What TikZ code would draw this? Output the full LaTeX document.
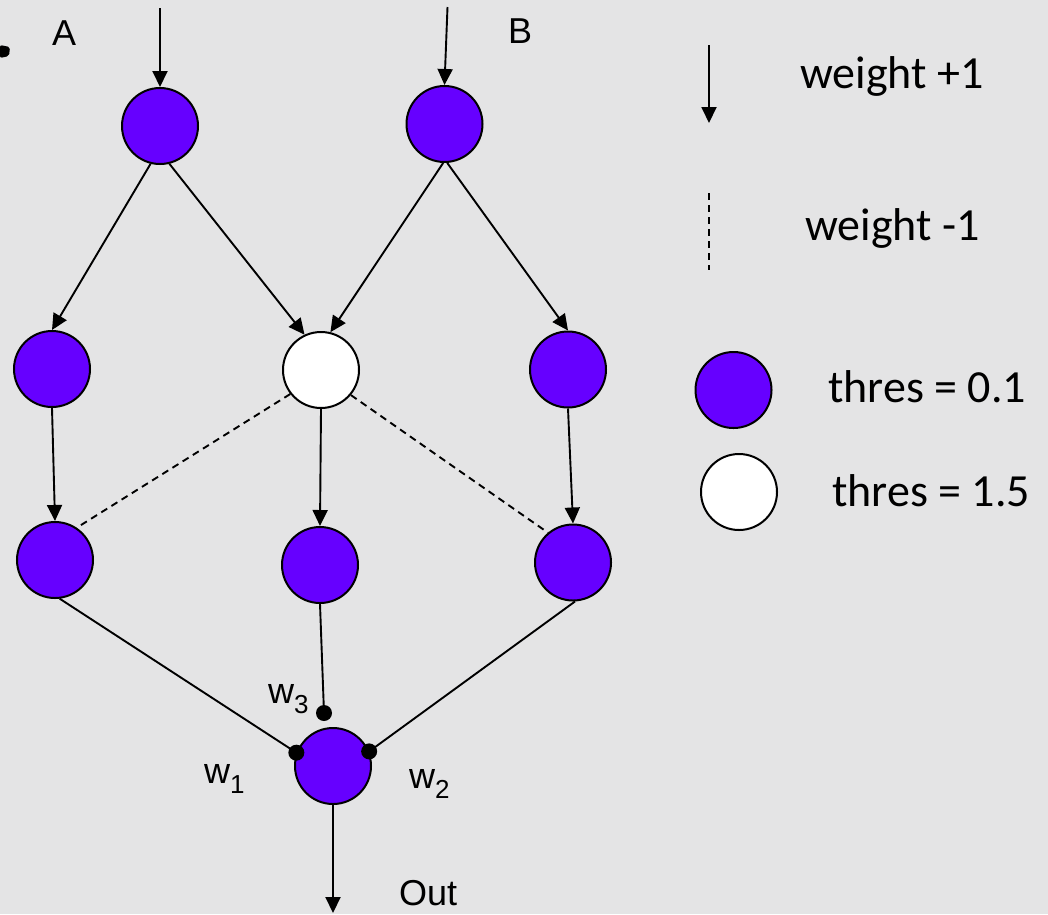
\documentclass[tikz,border=0pt]{standalone}
\usepackage{fontspec}
\setmainfont{Liberation Sans}
\newfontfamily\cali{Carlito}
\usetikzlibrary{arrows.meta}
\definecolor{npurple}{RGB}{102,0,255}
\definecolor{marble}{RGB}{228,228,229}
\newcommand\wlab[1]{w\raisebox{-10pt}{\fontsize{26}{26}\selectfont #1}}
\begin{document}
\begin{tikzpicture}[x=1pt,y=-1pt,
  neuron/.style={circle,draw,line width=2pt,minimum size=76pt,inner sep=0pt,fill=npurple},
  wneuron/.style={neuron,fill=white},
  conn/.style={line width=1.9pt},
  arr/.style={conn,-{Triangle[length=16pt,width=15pt]}},
  neg/.style={conn,dash pattern=on 7pt off 5pt},
  lab/.style={anchor=base west,inner sep=0pt,font=\fontsize{36}{36}\selectfont},
  leg/.style={anchor=base west,inner sep=0pt,font=\cali\fontsize{46}{46}\selectfont},
  dot/.style={circle,fill=black,inner sep=0pt,minimum size=16pt}]
\fill[marble] (0,0) rectangle (1048,914);
\useasboundingbox (0,0) rectangle (1048,914);
\fill[rounded corners=2pt] (0,45) -- (10,47) -- (9,56) -- (0,58) -- cycle;

% nodes
\node[neuron] (A) at (160,126) {};
\node[neuron] (B) at (444.5,124) {};
\node[neuron] (L2) at (52,369) {};
\node[wneuron] (W) at (321,370) {};
\node[neuron] (R2) at (568,369.5) {};
\node[neuron] (L3) at (55,560) {};
\node[neuron] (M3) at (320,565) {};
\node[neuron] (R3) at (573,562.5) {};
\node[neuron] (O) at (333,766) {};
\node[dot] (d1) at (O.160) {};
\node[dot] (d2) at (O.22) {};
\node[dot] (d3) at (324,713) {};
\coordinate (inA) at (160,8);
\coordinate (inB) at (447.5,7);
\coordinate (out) at (333,913);

% labels
\node[lab] (tA) at (52,45) {A};
\node[lab] (tB) at (508,43) {B};
\node[lab] (w3) at (268,703) {\wlab{3}};
\node[lab] (w1) at (204,783) {\wlab{1}};
\node[lab] (w2) at (409,788) {\wlab{2}};
\node[lab] (tOut) at (399,905) {Out};

% connectors
\draw[arr] (inA) -- (A.north);
\draw[arr] (inB) -- (B.north);
\draw[arr] (A.-104) -- (L2.north);
\draw[arr] (A.-76) -- (W.115);
\draw[arr] (B.-92) -- (W.76);
\draw[arr] (B.-86) -- (R2.north);
\draw[arr] (L2.south) -- (L3.north);
\draw[arr] (W.south) -- (M3.north);
\draw[arr] (R2.south) -- (R3.north);
\draw[neg] (W.218) -- (L3.56);
\draw[neg] (W.-40) -- (R3.130);
\draw[conn] (L3.-83) -- (d1.center);
\draw[conn] (M3.south) -- (d3.center);
\draw[conn] (R3.-87) -- (d2.center);
\draw[arr] (O.south) -- (out);

% legend
\coordinate (la1) at (709,45);
\coordinate (la2) at (709,123);
\coordinate (ld1) at (709,193);
\coordinate (ld2) at (709,270);
\draw[arr] (la1) -- (la2);
\draw[neg] (ld1) -- (ld2);
\node[leg] (lw1) at (800,88) {weight +1};
\node[leg] (lw2) at (805,240) {weight -1};
\node[neuron] (lp) at (733.5,390) {};
\node[wneuron] (lwc) at (739,492) {};
\node[leg] (lt1) at (828,402) {thres = 0.1};
\node[leg] (lt2) at (832,506) {thres = 1.5};
\end{tikzpicture}
\end{document}
